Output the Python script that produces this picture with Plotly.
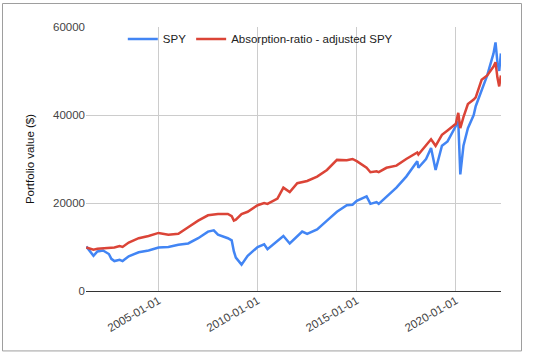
import plotly.graph_objects as go

dates = ["2001-05-10", "2001-08-01", "2001-09-20", "2001-12-01", "2002-03-15", "2002-07-01",
         "2002-08-15", "2002-10-10", "2003-01-15", "2003-03-10", "2003-07-01", "2004-01-01",
         "2004-07-01", "2005-01-01", "2005-07-01", "2006-01-01", "2006-07-01", "2007-01-01",
         "2007-07-01", "2007-10-15", "2008-01-01", "2008-07-01", "2008-09-10", "2008-10-20",
         "2008-11-25", "2009-03-10", "2009-07-01", "2010-01-01", "2010-05-01", "2010-07-01",
         "2011-01-01", "2011-04-20", "2011-08-15", "2012-01-01", "2012-04-01", "2012-07-01",
         "2013-01-01", "2013-07-01", "2014-01-01", "2014-07-01", "2014-10-15", "2015-01-01",
         "2015-07-01", "2015-09-10", "2016-01-01", "2016-02-10", "2016-07-01", "2017-01-01",
         "2017-07-01", "2018-01-20", "2018-02-10", "2018-07-01", "2018-10-01", "2018-12-24",
         "2019-04-20", "2019-08-01", "2020-01-01", "2020-02-15", "2020-03-23", "2020-05-20",
         "2020-08-10", "2020-11-25", "2021-01-01", "2021-04-20", "2021-08-01", "2021-11-25",
         "2022-01-01", "2022-02-05", "2022-03-10", "2022-04-10"]

spy = [10100, 8600, 8000, 9000, 9200, 8400,
       7300, 6800, 7100, 6800, 7900, 8800,
       9200, 9900, 10000, 10500, 10800, 12000,
       13500, 13800, 12800, 12000, 11500, 9000,
       7600, 6000, 8000, 10000, 10600, 9500,
       11500, 12500, 10800, 12300, 13500, 13000,
       14000, 16000, 18000, 19500, 19600, 20500,
       21500, 19800, 20200, 19800, 21500, 23500,
       26000, 29500, 28000, 30000, 32500, 27500,
       33000, 34000, 37500, 38500, 26500, 33000,
       37000, 40000, 42000, 45500, 49000, 54000,
       56500, 52000, 50000, 54000]

adjusted = [9900, 9500, 9400, 9600, 9700, 9800,
            9700, 9900, 10200, 10000, 11000, 12000,
            12500, 13200, 12800, 13000, 14500, 16000,
            17200, 17400, 17500, 17500, 17000, 16000,
            16200, 17500, 18000, 19500, 20000, 19800,
            21000, 23500, 22500, 24500, 24800, 25000,
            26000, 27500, 29800, 29700, 30000, 29500,
            28000, 27000, 27200, 27000, 28000, 28500,
            30000, 31500, 31000, 33000, 34500, 33000,
            35500, 36500, 38000, 40500, 37000, 39500,
            42500, 43500, 44000, 48000, 49000, 51000,
            52000, 48500, 46500, 49000]

names = ["SPY", "Absorption-ratio - adjusted SPY"]
colors = ["#4285F4", "#DB4437"]
y_ticks = [0, 20000, 40000, 60000]
y_labels = ["0", "20000", "40000", "60000"]
x_ticks = ["2005-01-01", "2010-01-01", "2015-01-01", "2020-01-01"]

fig = go.Figure()
for name, vals, col in zip(names, [spy, adjusted], colors):
    fig.add_trace(go.Scatter(x=dates, y=vals, name=name, mode="lines",
                             line=dict(color=col, width=2.5)))

font = "Arial, Liberation Sans, sans-serif"
fig.update_layout(
    width=544, height=355,
    margin=dict(l=86, r=43, t=27, b=64),
    paper_bgcolor="white", plot_bgcolor="white",
    font=dict(family=font, size=11.5, color="#222"),
    showlegend=True,
    legend=dict(orientation="h", x=0.42, xanchor="center", y=0.955, yanchor="middle",
                bgcolor="rgba(0,0,0,0)", font=dict(size=11.5, color="#222"),
                itemwidth=30, traceorder="normal"),
    xaxis=dict(range=["2001-05-05", "2022-04-12"], tickvals=x_ticks, ticktext=x_ticks,
               tickangle=-30, showgrid=True, gridcolor="#cccccc", gridwidth=1,
               tickfont=dict(size=11.5, color="#444"), showline=False, zeroline=False,
               ticks="", automargin=False),
    yaxis=dict(range=[0, 60000], tickvals=y_ticks, ticktext=y_labels, showgrid=True,
               gridcolor="#cccccc", gridwidth=1, zeroline=True, zerolinecolor="#333333",
               zerolinewidth=1, tickfont=dict(size=11.5, color="#444"), ticks="",
               showline=False, automargin=False,
               title=dict(text="Portfolio value ($)", font=dict(size=11.5, color="#111"))),
    shapes=[dict(type="rect", xref="paper", yref="paper",
                 x0=-0.2012, x1=1.0494, y0=-0.227, y1=1.089,
                 line=dict(color="#9e9e9e", width=1), fillcolor="rgba(0,0,0,0)",
                 layer="below")],
)

fig.write_html("out.html", config={"displayModeBar": False},
               post_script="document.body.style.margin='0';")
